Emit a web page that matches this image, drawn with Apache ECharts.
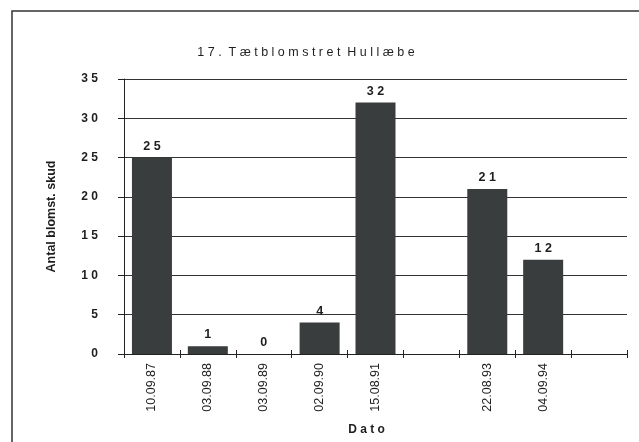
<!DOCTYPE html>
<html>
<head>
<meta charset="utf-8">
<script src="https://cdn.jsdelivr.net/npm/echarts@6/dist/echarts.min.js"></script>
<style>
html,body{margin:0;padding:0;background:#fff;}
#c{width:639px;height:442px;}
</style>
</head>
<body>
<div id="c"></div>
<script>
var categories = ['10.09.87', '03.09.88', '03.09.89', '02.09.90', '15.08.91', '', '22.08.93', '04.09.94', ''];
var values = [25, 1, 0, 4, 32, null, 21, 12, null];
var yTicks = [0, 5, 10, 15, 20, 25, 30, 35];
var titleText = '1 7 .  T æ t b l o m s t r e t  H u l l æ b e';
var yName = 'Antal blomst. skud';
var xName = 'D a t o';

function spaced(v) { return String(v).split('').join(' '); }

var chart = echarts.init(document.getElementById('c'), null, {renderer: 'canvas'});
var font = 'Liberation Sans, Arial, sans-serif';
var gridDef = {left: 124, right: 12, top: 79, bottom: 88};
chart.setOption({
  backgroundColor: '#ffffff',
  animation: false,
  title: {
    text: titleText,
    left: 301, top: 41,
    textAlign: 'center',
    textStyle: {fontFamily: font, fontSize: 12.5, fontWeight: 'normal', color: '#1e1e1e'}
  },
  graphic: [{
    type: 'rect',
    shape: {x: 12, y: 11, width: 700, height: 600},
    style: {fill: 'none', stroke: '#333', lineWidth: 1.5},
    silent: true
  }],
  grid: [gridDef, gridDef],
  xAxis: [{
    type: 'category',
    gridIndex: 0,
    data: categories,
    boundaryGap: true,
    axisLine: {show: true, lineStyle: {color: '#222', width: 1}},
    axisTick: {show: true, inside: false, length: 4, interval: 0, lineStyle: {color: '#222'}},
    axisLabel: {rotate: 90, interval: 0, margin: 9, fontFamily: font, fontSize: 12.5, color: '#1e1e1e'},
    name: xName,
    nameLocation: 'middle',
    nameGap: 70,
    nameTextStyle: {fontFamily: font, fontSize: 12, fontWeight: 'bold', color: '#1e1e1e', padding: [0, 18, 0, 0]}
  }, {
    type: 'category',
    gridIndex: 1,
    data: categories,
    position: 'bottom',
    axisLine: {show: false},
    axisTick: {show: true, inside: true, length: 4, interval: 0, lineStyle: {color: '#222'}},
    axisLabel: {show: false}
  }],
  yAxis: [{
    type: 'value',
    gridIndex: 0,
    min: 0, max: 35, interval: 5,
    axisLine: {show: true, lineStyle: {color: '#222', width: 1}},
    axisTick: {show: true, inside: false, length: 6, lineStyle: {color: '#222'}},
    splitLine: {show: true, lineStyle: {color: '#333', width: 1.2}},
    axisLabel: {
      margin: 26, fontFamily: font, fontSize: 12, fontWeight: 'bold', color: '#1e1e1e',
      formatter: function (v) { return yTicks.indexOf(v) >= 0 ? spaced(v) : ''; }
    },
    name: yName,
    nameLocation: 'middle',
    nameGap: 66,
    nameRotate: 90,
    nameTextStyle: {fontFamily: font, fontSize: 12.5, fontWeight: 'bold', color: '#1e1e1e'}
  }, {
    type: 'value',
    gridIndex: 1,
    min: 0, max: 35, interval: 5,
    show: false
  }],
  series: [{
    type: 'bar',
    xAxisIndex: 0, yAxisIndex: 0,
    data: values,
    barWidth: 40,
    itemStyle: {color: '#3a3d3d'},
    label: {
      show: true, position: 'top', distance: 5,
      fontFamily: font, fontSize: 12.5, fontWeight: 'bold', color: '#1e1e1e',
      formatter: function (p) { return p.value == null ? '' : spaced(p.value); }
    }
  }]
});
</script>
</body>
</html>
